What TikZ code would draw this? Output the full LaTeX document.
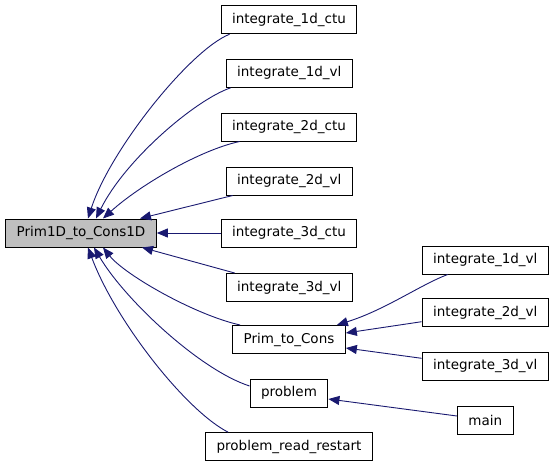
\documentclass[tikz,border=0pt]{standalone}
\usepackage{fontspec}
\setmainfont{DejaVu Sans}
\usetikzlibrary{arrows.meta}
\definecolor{edgeblue}{RGB}{25,25,112}
\definecolor{hilite}{RGB}{191,191,191}
\tikzset{
  x=1pt, y=-1pt,
  fn/.style={
    draw=black, line width=1pt, fill=white,
    minimum height=28pt, inner xsep=11pt, inner ysep=0pt,
    font=\fontsize{13.5}{16}\selectfont
  },
  focus/.style={fn, fill=hilite},
  call/.style={
    draw=edgeblue, line width=0.9pt,
    -{Triangle[length=11pt,width=9pt]}
  }
}
\begin{document}
\begin{tikzpicture}
\useasboundingbox (0,0) rectangle (555,467);
% first column
\node[focus] (p1d) at (81,233) {Prim1D\_to\_Cons1D};
% callers
\node[fn] (ctu1) at (289,19.7) {integrate\_1d\_ctu};
\node[fn] (vl1) at (289.3,73.3) {integrate\_1d\_vl};
\node[fn] (ctu2) at (289,127) {integrate\_2d\_ctu};
\node[fn] (vl2) at (289.3,181) {integrate\_2d\_vl};
\node[fn] (ctu3) at (289,233) {integrate\_3d\_ctu};
\node[fn] (vl3) at (289.3,287.5) {integrate\_3d\_vl};
\node[fn] (ptc) at (289,339.5) {Prim\_to\_Cons};
\node[fn] (prob) at (289,393) {problem};
\node[fn] (prr) at (289,446.7) {problem\_read\_restart};
% last column
\node[fn] (vl1r) at (485.3,260) {integrate\_1d\_vl};
\node[fn] (vl2r) at (485.3,312.7) {integrate\_2d\_vl};
\node[fn] (vl3r) at (485.3,366.3) {integrate\_3d\_vl};
\node[fn] (main) at (485.3,420) {main};

\draw[call] ([xshift=9pt]ctu1.south west) .. controls (190,50) and (110,150) .. ([xshift=7pt]p1d.north);
\draw[call] ([xshift=5pt]vl1.south west) .. controls (195,100) and (125,160) .. ([xshift=15pt]p1d.north);
\draw[call] ([xshift=19pt]ctu2.south west) .. controls (200,150) and (140,185) .. ([xshift=22pt]p1d.north);
\draw[call] ([xshift=7pt]vl2.south west) -- ([xshift=59pt]p1d.north);
\draw[call] (ctu3.west) -- (ctu3.west -| p1d.east);
\draw[call] ([xshift=9pt]vl3.north west) -- ([xshift=61pt]p1d.south);
\draw[call] ([xshift=8pt]ptc.north west) .. controls (195,315) and (125,275) .. ([xshift=22pt]p1d.south);
\draw[call] ([yshift=7pt]prob.west) .. controls (200,370) and (125,300) .. ([xshift=13pt]p1d.south);
\draw[call] ([xshift=23pt]prr.north west) .. controls (185,410) and (115,320) .. ([xshift=7pt]p1d.south);

\draw[call] ([xshift=26pt]vl1r.south west) .. controls (420,285) and (385,310) .. ([xshift=-9pt]ptc.north east);
\draw[call] ([yshift=-9pt]vl2r.west) -- ([yshift=6.5pt]ptc.east);
\draw[call] ([yshift=8pt]vl3r.west) -- ([yshift=-8.5pt]ptc.east);
\draw[call] ([yshift=4pt]main.west) -- ([yshift=-6pt]prob.east);
\end{tikzpicture}
\end{document}
